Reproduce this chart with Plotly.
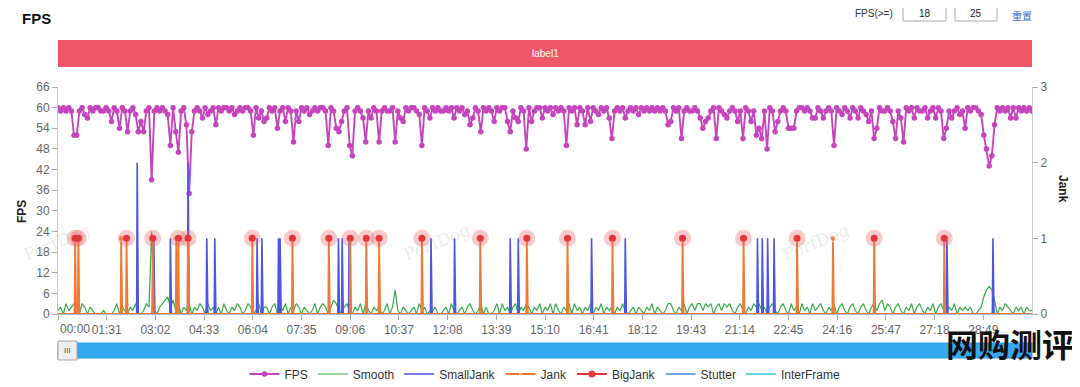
import plotly.graph_objects as go

# ---------------- data ----------------
duration = 1820          # seconds shown on the time axis
fps_step = 5             # seconds between FPS / Smooth samples

fps_values = [
    60, 59, 60, 59, 60, 59, 52, 52, 59, 60, 58, 57, 60, 59, 60, 60, 59, 59, 60, 59,
    56, 60, 59, 54, 60, 59, 53, 59, 60, 58, 53, 56, 53, 59, 60, 39, 59, 60, 59, 60,
    59, 58, 49, 60, 53, 47, 59, 60, 55, 35, 53, 59, 60, 59, 57, 60, 58, 59, 60, 55,
    60, 59, 60, 60, 59, 60, 58, 59, 60, 59, 60, 60, 59, 52, 60, 57, 59, 56, 57, 60,
    59, 60, 54, 59, 60, 56, 60, 59, 50, 59, 56, 60, 59, 60, 58, 59, 60, 59, 60, 60,
    59, 49, 60, 59, 54, 53, 56, 59, 60, 49, 46, 59, 60, 59, 57, 50, 59, 57, 60, 59,
    50, 59, 60, 59, 59, 60, 50, 59, 57, 56, 60, 59, 60, 60, 59, 58, 49, 60, 59, 57,
    60, 59, 60, 59, 59, 60, 59, 60, 57, 60, 59, 60, 58, 59, 55, 57, 60, 59, 53, 60,
    59, 60, 59, 56, 60, 59, 60, 60, 56, 53, 59, 57, 56, 60, 59, 48, 60, 56, 59, 60,
    60, 57, 60, 59, 60, 58, 60, 59, 60, 59, 49, 60, 59, 60, 55, 60, 59, 55, 60, 56,
    60, 59, 58, 60, 59, 60, 57, 51, 59, 60, 59, 60, 57, 59, 60, 59, 60, 58, 60, 59,
    60, 59, 60, 59, 60, 59, 60, 59, 55, 56, 60, 59, 60, 51, 59, 60, 59, 59, 60, 59,
    57, 54, 56, 57, 59, 60, 51, 60, 59, 58, 57, 59, 60, 59, 56, 59, 51, 60, 59, 56,
    59, 52, 54, 51, 59, 48, 60, 59, 53, 56, 59, 60, 59, 54, 54, 54, 59, 60, 60, 59,
    60, 59, 57, 57, 60, 59, 57, 59, 60, 59, 49, 60, 59, 58, 60, 59, 57, 60, 59, 57,
    60, 59, 58, 56, 59, 51, 54, 60, 59, 59, 60, 59, 56, 51, 59, 57, 50, 60, 59, 60,
    57, 60, 59, 59, 60, 57, 59, 60, 57, 60, 59, 51, 54, 59, 57, 59, 60, 58, 59, 54,
    60, 59, 60, 60, 59, 58, 52, 48, 43, 46, 55, 60, 59, 60, 59, 60, 57, 60, 57, 60,
    59, 60, 59, 60, 59,
]

smooth_values = [
    1, 2, 0, 3, 1, 2, 3, 1, 0, 3, 2, 0, 2, 1, 0, 0, 0, 1, 0, 0,
    0, 1, 3, 0, 2, 1, 0, 2, 1, 3, 0, 0, 1, 3, 2, 24, 1, 0, 2, 3,
    4, 5, 2, 4, 1, 3, 0, 2, 1, 3, 0, 2, 1, 3, 2, 0, 3, 1, 2, 0,
    2, 0, 3, 1, 0, 2, 1, 3, 2, 0, 1, 3, 2, 0, 1, 3, 0, 2, 2, 0,
    2, 3, 0, 2, 1, 3, 0, 2, 1, 3, 2, 0, 2, 1, 0, 1, 3, 0, 2, 3,
    2, 0, 2, 4, 3, 1, 0, 2, 3, 1, 0, 2, 1, 3, 0, 3, 1, 0, 2, 1,
    2, 0, 1, 3, 0, 2, 7, 1, 0, 2, 1, 0, 1, 2, 0, 3, 1, 2, 0, 1,
    1, 2, 0, 0, 1, 2, 0, 3, 1, 0, 1, 2, 0, 2, 3, 1, 0, 1, 3, 0,
    2, 0, 0, 1, 3, 0, 3, 1, 2, 0, 2, 3, 0, 2, 1, 3, 2, 0, 2, 1,
    3, 0, 2, 1, 3, 0, 3, 1, 0, 2, 1, 3, 0, 3, 1, 2, 0, 2, 1, 3,
    0, 2, 1, 3, 0, 2, 1, 2, 0, 2, 1, 3, 1, 0, 1, 2, 0, 2, 1, 0,
    2, 1, 3, 0, 2, 1, 0, 1, 3, 3, 1, 0, 2, 1, 3, 0, 2, 3, 1, 3,
    3, 1, 3, 2, 3, 0, 2, 3, 1, 3, 2, 3, 1, 0, 2, 3, 1, 0, 2, 1,
    3, 2, 3, 1, 2, 0, 2, 3, 1, 0, 2, 3, 1, 0, 3, 1, 2, 0, 3, 1,
    2, 0, 3, 1, 2, 3, 1, 0, 2, 1, 3, 0, 2, 3, 1, 0, 2, 3, 1, 0,
    2, 3, 1, 0, 2, 3, 1, 3, 4, 1, 3, 2, 0, 2, 3, 1, 0, 2, 1, 3,
    0, 2, 3, 1, 0, 2, 1, 3, 0, 2, 3, 1, 0, 2, 1, 3, 0, 2, 1, 2,
    1, 2, 0, 0, 1, 2, 5, 7, 8, 7, 4, 0, 2, 1, 3, 2, 1, 0, 2, 1,
    2, 0, 2, 1, 1,
]

small_jank_times = [148, 179, 210, 243, 278, 293, 372, 381, 412, 415, 524, 531, 544,
                    697, 741, 845, 860, 997, 1060, 1307, 1316, 1326, 1338, 1661, 1747]
small_jank_levels = [2, 1, 1, 2, 1, 1, 1, 1, 1, 1, 1, 1, 1,
                     1, 1, 1, 1, 1, 1, 1, 1, 1, 1, 1, 1]

jank_times = [32, 38, 118, 128, 177, 221, 225, 243, 363, 438, 506, 546, 576, 600,
              680, 789, 876, 952, 1036, 1167, 1281, 1381, 1448, 1525, 1656]

big_jank_times = [32, 38, 128, 177, 225, 243, 363, 438, 506, 546, 576, 600,
                  680, 789, 876, 952, 1036, 1167, 1281, 1381, 1525, 1656]

stutter_times = [32, 38, 118, 128, 148, 177, 210, 222, 243, 278, 293, 363, 372, 412,
                 438, 506, 524, 546, 576, 600, 680, 697, 789, 845, 876, 952, 997,
                 1036, 1060, 1167, 1281, 1307, 1326, 1381, 1448, 1525, 1656, 1747]
stutter_values = [3, 3, 2, 2, 2, 8, 2, 2, 3, 2, 2, 2, 2, 2,
                  2, 2, 4, 2, 2, 2, 2, 2, 2, 2, 2, 2, 2,
                  2, 2, 2, 2, 2, 2, 2, 2, 2, 2, 2]

interframe_times = []

tick_seconds = [0, 91, 182, 273, 364, 455, 546, 637, 728, 819, 910, 1001, 1092,
                1183, 1274, 1365, 1456, 1547, 1638, 1729]
tick_labels = ["00:00", "01:31", "03:02", "04:33", "06:04", "07:35", "09:06",
               "10:37", "12:08", "13:39", "15:10", "16:41", "18:12", "19:43",
               "21:14", "22:45", "24:16", "25:47", "27:18", "28:49"]

fps_axis_ticks = [0, 6, 12, 18, 24, 30, 36, 42, 48, 54, 60, 66]
jank_axis_ticks = [0, 1, 2, 3]

# ---------------- colours ----------------
C_FPS = "#c545bd"
C_SMOOTH = "#3aab4a"
C_SMALL = "#4c55e4"
C_JANK = "#f07a35"
C_BIG = "#e5363c"
C_STUTTER = "#3f8fe6"
C_INTER = "#35c6d6"

# page pixel geometry (the html body adds an 8px margin around the figure)
OFF = 8
PAGE_W, PAGE_H = 1080, 387
W, H = PAGE_W - OFF, PAGE_H - OFF
L, R, T, B = 58, 1032, 87, 314      # plot area in page pixels


def px(x):
    return (x - L) / (R - L)


def py(y):
    return (B - y) / (B - T)


# build per-second series from the event lists
seconds = list(range(duration + 1))


def spike_series(times, levels):
    ys = [0] * (duration + 1)
    for t, v in zip(times, levels):
        ys[t] = v
    return ys


fps_x = [i * fps_step for i in range(len(fps_values))]
smooth_x = [i * fps_step for i in range(len(smooth_values))]

small_y = spike_series(small_jank_times, small_jank_levels)
jank_y = spike_series(jank_times, [1] * len(jank_times))
jank_msize = [6 if v else 0 for v in jank_y]
stutter_y = spike_series(stutter_times, stutter_values)
inter_y = spike_series(interframe_times, [])

big_x, big_y = [], []
for t in big_jank_times:
    big_x += [t, None]
    big_y += [1, None]

fig = go.Figure()

fig.add_trace(go.Scatter(x=seconds, y=stutter_y, mode="lines", name="Stutter",
                         line=dict(color=C_STUTTER, width=1.5), legendrank=6))
fig.add_trace(go.Scatter(x=seconds, y=inter_y, mode="lines", name="InterFrame",
                         line=dict(color=C_INTER, width=1.5), legendrank=7))
fig.add_trace(go.Scatter(x=smooth_x, y=smooth_values, mode="lines", name="Smooth",
                         line=dict(color=C_SMOOTH, width=1.2), legendrank=2))
fig.add_trace(go.Scatter(x=seconds, y=small_y, mode="lines", name="SmallJank",
                         yaxis="y2", line=dict(color=C_SMALL, width=1.6), legendrank=3))
fig.add_trace(go.Scatter(x=seconds, y=jank_y, mode="lines+markers", name="Jank",
                         yaxis="y2", line=dict(color=C_JANK, width=1.8),
                         marker=dict(size=jank_msize, color=C_JANK), legendrank=4))
fig.add_trace(go.Scatter(x=big_jank_times, y=[1] * len(big_jank_times), mode="markers",
                         yaxis="y2", showlegend=False, hoverinfo="skip",
                         marker=dict(size=17, color="rgba(236,90,90,0.32)")))
fig.add_trace(go.Scatter(x=big_x, y=big_y, mode="lines+markers", name="BigJank",
                         yaxis="y2", line=dict(color=C_BIG, width=1.8),
                         marker=dict(size=7, color=C_BIG), legendrank=5))
fig.add_trace(go.Scatter(x=fps_x, y=fps_values, mode="lines+markers", name="FPS",
                         line=dict(color=C_FPS, width=1.9),
                         marker=dict(size=5.5, color=C_FPS), legendrank=1))

axis_font = dict(family="Liberation Sans, Arial", size=12, color="#666")

fig.update_layout(
    width=W, height=H, autosize=False,
    margin=dict(l=L - OFF, r=PAGE_W - R, t=T - OFF, b=PAGE_H - B, autoexpand=False),
    paper_bgcolor="white", plot_bgcolor="white",
    font=dict(family="Liberation Sans, Arial", color="#333"),
    showlegend=True,
    legend=dict(orientation="h", x=0.5, xanchor="center", y=py(374), yanchor="middle",
                font=dict(size=12, color="#333"), itemwidth=30,
                bgcolor="rgba(0,0,0,0)"),
    xaxis=dict(range=[0, duration], tickvals=tick_seconds,
               ticktext=[""] + tick_labels[1:],
               ticks="outside", ticklen=5, tickcolor="#aaa", showline=True,
               linecolor="#a9b9d0", linewidth=1, showgrid=False, zeroline=False,
               tickfont=axis_font),
    yaxis=dict(range=[0, 66], tickvals=fps_axis_ticks, ticks="outside", ticklen=5,
               tickcolor="#aaa", showline=True, linecolor="#c8ccd6", showgrid=False,
               zeroline=False, tickfont=axis_font),
    yaxis2=dict(range=[0, 3], tickvals=jank_axis_ticks, overlaying="y", side="right",
                ticks="outside", ticklen=5, tickcolor="#aaa", showline=True,
                linecolor="#c8ccd6", showgrid=False, zeroline=False, tickfont=axis_font),
)

shapes = []
ann = []


def note(text, x, y, size, color, xanchor="center", **kw):
    ann.append(dict(text=text, xref="paper", yref="paper", x=px(x), y=py(y),
                    xanchor=xanchor, yanchor="middle", showarrow=False,
                    font=dict(size=size, color=color, family=kw.pop("family", None)),
                    **kw))


# label band
shapes.append(dict(type="rect", xref="paper", yref="paper", x0=0, x1=1,
                   y0=py(67), y1=py(40), fillcolor="#ef5666", line=dict(width=0),
                   layer="below"))
note("label1", 545, 53.5, 10, "white")

# title
note("<b>FPS</b>", 20, 18, 15, "#111", xanchor="left")

# threshold controls
note("FPS(>=)", 895, 14, 10, "#333", xanchor="right")
for x0, x1, label in [(903, 946, "18"), (955, 997, "25")]:
    shapes.append(dict(type="rect", xref="paper", yref="paper", x0=px(x0), x1=px(x1),
                       y0=py(21), y1=py(6), line=dict(color="#aaa", width=1),
                       fillcolor="white"))
    note(label, (x0 + x1) / 2, 14, 10, "#222")
note("重置", 1022, 15, 10, "#3a6fd6", family="Noto Sans CJK SC")

# axis titles
note("<b>FPS</b>", 22, 212, 12, "#222", textangle=-90)
note("<b>Jank</b>", 1063, 189, 12, "#222", textangle=90)

# first time label (left aligned at the axis start)
ann.append(dict(text=tick_labels[0], xref="paper", yref="paper", x=0, y=py(329),
                xanchor="left", yanchor="middle", showarrow=False, font=axis_font))

# data-zoom slider
shapes.append(dict(type="rect", xref="paper", yref="paper", x0=0, x1=1,
                   y0=py(358), y1=py(343), fillcolor="#36a9f1",
                   line=dict(color="#2b9be6", width=1)))
shapes.append(dict(type="rect", xref="paper", yref="paper", x0=px(58), x1=px(77),
                   y0=py(360), y1=py(341), fillcolor="#eeeeee",
                   line=dict(color="#a8a8a8", width=1)))
note("III", 67.5, 350.5, 8, "#555")

# faint PerfDog watermarks
for wx in (57, 437, 816):
    note("PerfDog", wx, 242, 17, "rgba(110,110,110,0.14)", textangle=-22,
         family="DejaVu Serif")

# corner watermark
note("<b>网购测评</b>", 1010, 343, 32, "#111", family="Noto Sans CJK SC")

fig.update_layout(shapes=shapes, annotations=ann)

fig.write_html("out.html")
